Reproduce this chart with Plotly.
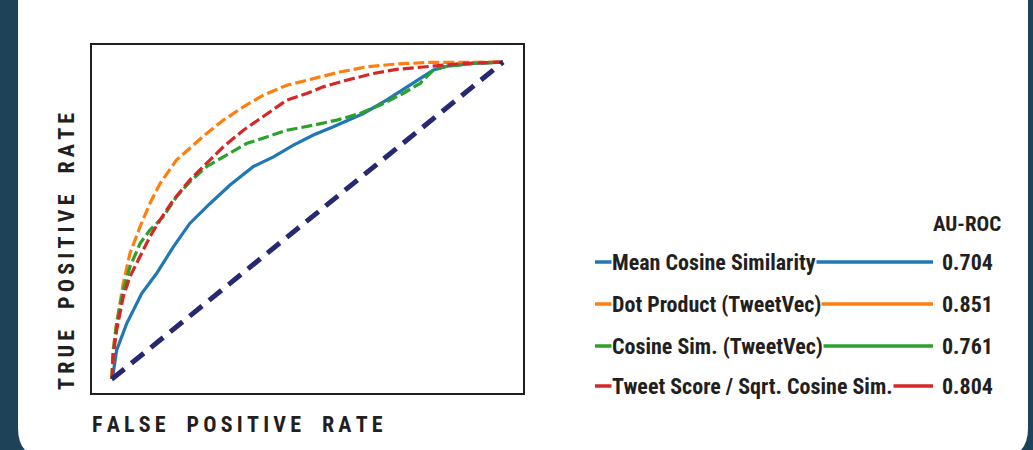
import plotly.graph_objects as go

W, H = 1033, 450

# ROC curves
blue_fpr = [0.0, 0.001, 0.012, 0.038, 0.076, 0.114, 0.157, 0.199, 0.251, 0.302, 0.361, 0.413, 0.464, 0.515, 0.566, 0.643, 0.702, 0.771, 0.822, 0.856, 0.924, 1.0]
blue_tpr = [0.0, 0.0, 0.091, 0.176, 0.270, 0.333, 0.417, 0.491, 0.554, 0.612, 0.670, 0.701, 0.738, 0.770, 0.796, 0.838, 0.880, 0.933, 0.975, 0.987, 0.996, 1.0]

orange_fpr = [0.0, 0.003, 0.012, 0.029, 0.046, 0.072, 0.097, 0.123, 0.165, 0.199, 0.242, 0.285, 0.336, 0.387, 0.447, 0.515, 0.583, 0.651, 0.728, 0.813, 0.899, 1.0]
orange_tpr = [0.0, 0.091, 0.176, 0.302, 0.396, 0.481, 0.554, 0.617, 0.691, 0.728, 0.775, 0.817, 0.859, 0.896, 0.927, 0.948, 0.969, 0.985, 0.994, 0.999, 1.0, 1.0]

green_fpr = [0.0, 0.003, 0.012, 0.029, 0.046, 0.072, 0.097, 0.131, 0.165, 0.199, 0.242, 0.285, 0.344, 0.396, 0.447, 0.515, 0.575, 0.634, 0.685, 0.737, 0.788, 0.822, 0.856, 0.924, 1.0]
green_tpr = [0.0, 0.081, 0.176, 0.281, 0.354, 0.428, 0.470, 0.512, 0.575, 0.622, 0.670, 0.701, 0.743, 0.764, 0.785, 0.801, 0.817, 0.838, 0.864, 0.896, 0.933, 0.975, 0.987, 0.996, 1.0]

red_fpr = [0.0, 0.003, 0.012, 0.029, 0.046, 0.072, 0.097, 0.123, 0.157, 0.199, 0.242, 0.285, 0.336, 0.379, 0.413, 0.447, 0.498, 0.540, 0.600, 0.668, 0.728, 0.813, 0.899, 1.0]
red_tpr = [0.0, 0.070, 0.155, 0.260, 0.323, 0.386, 0.449, 0.502, 0.565, 0.628, 0.680, 0.733, 0.785, 0.822, 0.849, 0.880, 0.901, 0.922, 0.943, 0.964, 0.977, 0.987, 0.996, 1.0]

chance_fpr = [0.0, 1.0]
chance_tpr = [0.0, 1.0]

series_names = ["Mean Cosine Similarity", "Dot Product (TweetVec)", "Cosine Sim. (TweetVec)", "Tweet Score / Sqrt. Cosine Sim."]
au_roc = ["0.704", "0.851", "0.761", "0.804"]
colors = ["#1f77b4", "#ff7f0e", "#2ca02c", "#d62728"]
dashes = ["solid", "11px,4px", "11px,4px", "11px,4px"]

TEAL = "#1e4359"
INK = "#231f20"
FONT = "Roboto Condensed, Liberation Sans Narrow, DejaVu Sans Condensed, sans-serif"
TS = "\u2009"  # thin space used for letter spacing of axis titles

fig = go.Figure()
curves = [(blue_fpr, blue_tpr), (orange_fpr, orange_tpr), (green_fpr, green_tpr), (red_fpr, red_tpr)]
for (xs, ys), name, c, d in zip(curves, series_names, colors, dashes):
    fig.add_trace(go.Scatter(x=xs, y=ys, mode="lines", name=name,
                             line=dict(color=c, width=3.2, dash=d), showlegend=False))
fig.add_trace(go.Scatter(x=chance_fpr, y=chance_tpr, mode="lines", name="Chance",
                         line=dict(color="#27286f", width=5, dash="16px,9px"), showlegend=False))

def px(x):
    return x / W

def py(y):
    return 1 - y / H

def spaced(s):
    words = s.split(" ")
    return (TS * 5).join(TS.join(w) for w in words)

shapes = []
# page background panel (white with rounded bottom corners)
r = 30
x0, x1, y0, y1 = px(18), px(1028), py(-20), py(458)
rx, ry = r / W, r / H
path = (f"M {x0},{y0} L {x1},{y0} L {x1},{y1 + ry} Q {x1},{y1} {x1 - rx},{y1} "
        f"L {x0 + rx},{y1} Q {x0},{y1} {x0},{y1 + ry} Z")
shapes.append(dict(type="path", xref="paper", yref="paper", path=path,
                   fillcolor="white", line=dict(width=0), layer="below"))

annotations = []
row_y = [262, 304, 346, 386]
for name, val, c, yy in zip(series_names, au_roc, colors, row_y):
    shapes.append(dict(type="line", xref="paper", yref="paper",
                       x0=px(595), x1=px(933), y0=py(yy), y1=py(yy),
                       line=dict(color=c, width=3.5), layer="above"))
    annotations.append(dict(xref="paper", yref="paper", x=px(611), y=py(yy),
                            xanchor="left", yanchor="middle", text=name, showarrow=False,
                            bgcolor="white", borderpad=0,
                            font=dict(family=FONT, size=22, color=INK, weight="bold")))
    annotations.append(dict(xref="paper", yref="paper", x=px(967), y=py(yy),
                            xanchor="center", yanchor="middle", text=val, showarrow=False,
                            font=dict(family=FONT, size=22, color=INK, weight="bold")))

annotations.append(dict(xref="paper", yref="paper", x=px(967), y=py(224),
                        xanchor="center", yanchor="middle", text="AU-ROC", showarrow=False,
                        font=dict(family=FONT, size=21, color=INK, weight="bold")))
annotations.append(dict(xref="paper", yref="paper", x=px(90), y=py(424),
                        xanchor="left", yanchor="middle",
                        text=spaced("FALSE POSITIVE RATE"), showarrow=False,
                        font=dict(family=FONT, size=22, color=INK, weight="bold")))
annotations.append(dict(xref="paper", yref="paper", x=px(66), y=py(252),
                        xanchor="center", yanchor="middle", textangle=-90,
                        text=spaced("TRUE POSITIVE RATE"), showarrow=False,
                        font=dict(family=FONT, size=22, color=INK, weight="bold")))

axis_common = dict(showgrid=False, zeroline=False, showticklabels=False, ticks="",
                   showline=True, mirror=True, linecolor=INK, linewidth=2)

fig.update_layout(
    width=W, height=H,
    margin=dict(l=0, r=0, t=0, b=0),
    paper_bgcolor=TEAL,
    plot_bgcolor="white",
    xaxis=dict(domain=[px(92), px(523)], range=[-0.051, 1.051], **axis_common),
    yaxis=dict(domain=[py(393), py(45)], range=[-0.044, 1.054], **axis_common),
    shapes=shapes,
    annotations=annotations,
)

fig.write_html("out.html", config={"displayModeBar": False},
               post_script="document.body.style.margin='0';document.body.style.overflow='hidden';")
